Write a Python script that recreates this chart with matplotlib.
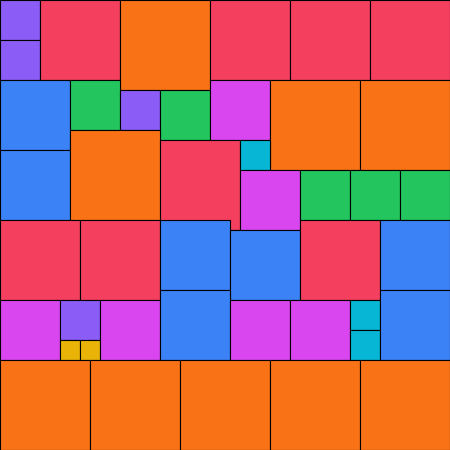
import matplotlib
matplotlib.use("Agg")
import matplotlib.pyplot as plt
from matplotlib.patches import Rectangle

# Tile layout in pixel units of a 450 x 450 canvas: left, top, width, height, group
left = [0, 0, 40, 120, 210, 290, 370,
        0, 70, 120, 160, 210, 270, 360,
        0, 70, 160, 240, 240, 300, 350, 400,
        0, 80, 160, 230, 300, 380,
        0, 60, 60, 80, 100, 160, 230, 290, 350, 350, 380,
        0, 90, 180, 270, 360]
top = [0, 40, 0, 0, 0, 0, 0,
       80, 80, 90, 90, 80, 80, 80,
       150, 130, 140, 140, 170, 170, 170, 170,
       220, 220, 220, 230, 220, 220,
       300, 300, 340, 340, 300, 290, 300, 300, 300, 330, 290,
       360, 360, 360, 360, 360]
width = [40, 40, 80, 90, 80, 80, 80,
         70, 50, 40, 50, 60, 90, 90,
         70, 90, 80, 30, 60, 50, 50, 50,
         80, 80, 70, 70, 80, 70,
         60, 40, 20, 20, 60, 70, 60, 60, 30, 30, 70,
         90, 90, 90, 90, 90]
height = [40, 40, 80, 90, 80, 80, 80,
          70, 50, 40, 50, 60, 90, 90,
          70, 90, 90, 30, 60, 50, 50, 50,
          80, 80, 70, 70, 80, 70,
          60, 40, 20, 20, 60, 70, 60, 60, 30, 30, 70,
          90, 90, 90, 90, 90]
group = ["purple", "purple", "red", "orange", "red", "red", "red",
         "blue", "green", "purple", "green", "magenta", "orange", "orange",
         "blue", "orange", "red", "cyan", "magenta", "green", "green", "green",
         "red", "red", "blue", "blue", "red", "blue",
         "magenta", "purple", "yellow", "yellow", "magenta", "blue", "magenta",
         "magenta", "cyan", "cyan", "blue",
         "orange", "orange", "orange", "orange", "orange"]

palette = {
    "purple": "#8B5CF6",
    "red": "#F43F5E",
    "orange": "#F97316",
    "blue": "#3B82F6",
    "green": "#22C55E",
    "magenta": "#D946EF",
    "cyan": "#06B6D4",
    "yellow": "#EAB308",
}

fig = plt.figure(figsize=(4.5, 4.5), dpi=100)
ax = fig.add_axes([0, 0, 1, 1])

for x, y, w, h, g in zip(left, top, width, height, group):
    ax.add_patch(Rectangle((x, y), w, h, facecolor=palette[g],
                           edgecolor="black", linewidth=0.8))

ax.set_xlim(0, 450)
ax.set_ylim(450, 0)
ax.axis("off")

fig.savefig("out.png", dpi=100)
plt.close(fig)
